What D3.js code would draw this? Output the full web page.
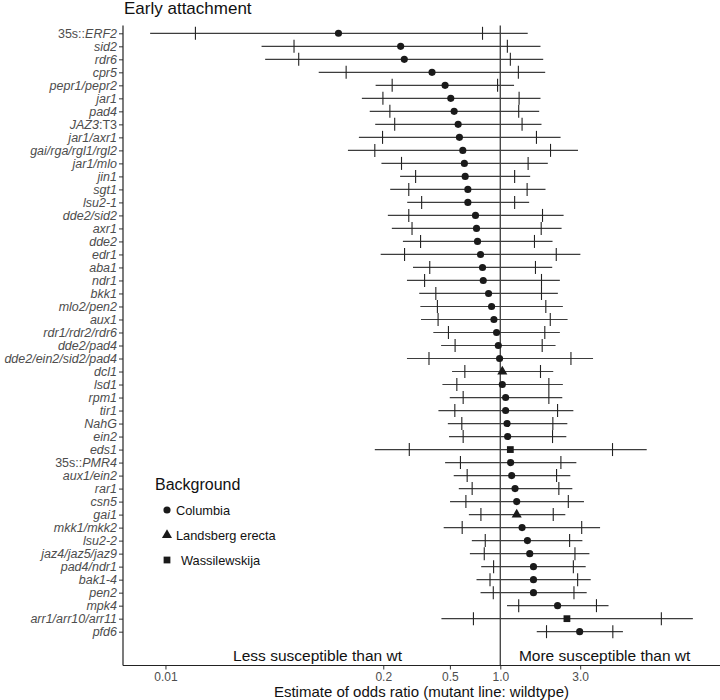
<!DOCTYPE html>
<html>
<head>
<meta charset="utf-8">
<script src="https://cdn.jsdelivr.net/npm/d3@7"></script>
<style>
  html, body { margin: 0; padding: 0; background: #fff; }
  svg { display: block; }
</style>
</head>
<body>
<svg id="chart" width="720" height="700"></svg>
<script>
// ---------------- DATA ----------------
const categories = [
  "35s::ERF2", "sid2", "rdr6", "cpr5", "pepr1/pepr2", "jar1", "pad4", "JAZ3:T3",
  "jar1/axr1", "gai/rga/rgl1/rgl2", "jar1/mlo", "jin1", "sgt1", "lsu2-1",
  "dde2/sid2", "axr1", "dde2", "edr1", "aba1", "ndr1", "bkk1", "mlo2/pen2",
  "aux1", "rdr1/rdr2/rdr6", "dde2/pad4", "dde2/ein2/sid2/pad4", "dcl1", "lsd1",
  "rpm1", "tir1", "NahG", "ein2", "eds1", "35s::PMR4", "aux1/ein2", "rar1",
  "csn5", "gai1", "mkk1/mkk2", "lsu2-2", "jaz4/jaz5/jaz9", "pad4/ndr1",
  "bak1-4", "pen2", "mpk4", "arr1/arr10/arr11", "pfd6"
];
// Blank rows under the last line, used for the annotations
const blankRows = ["blank1", "blank2"];

const estimate = [
  0.108, 0.254, 0.267, 0.391, 0.468, 0.506, 0.530, 0.560,
  0.570, 0.597, 0.610, 0.617, 0.640, 0.640,
  0.711, 0.721, 0.731, 0.762, 0.783, 0.791, 0.851, 0.887,
  0.916, 0.950, 0.973, 0.990, 1.028, 1.028,
  1.076, 1.076, 1.097, 1.106, 1.148, 1.153, 1.169, 1.225,
  1.253, 1.253, 1.349, 1.452, 1.499, 1.578,
  1.578, 1.578, 2.198, 2.500, 2.979
];
// outer interval (whisker ends)
const outerLow = [
  0.0081, 0.0375, 0.0394, 0.0823, 0.180, 0.149, 0.166, 0.179,
  0.143, 0.123, 0.195, 0.252, 0.220, 0.278,
  0.213, 0.225, 0.262, 0.193, 0.301, 0.277, 0.328, 0.333,
  0.336, 0.398, 0.443, 0.277, 0.515, 0.451,
  0.499, 0.427, 0.486, 0.494, 0.178, 0.468, 0.527, 0.565,
  0.501, 0.649, 0.459, 0.676, 0.658, 0.769,
  0.721, 0.762, 1.097, 0.445, 1.651
];
const outerHigh = [
  1.458, 1.738, 1.804, 1.854, 1.208, 1.738, 1.707, 1.762,
  2.291, 2.911, 1.922, 1.508, 1.862, 1.487,
  2.388, 2.323, 2.051, 3.008, 2.042, 2.268, 2.207, 2.364,
  2.523, 2.268, 2.138, 3.580, 2.071, 2.364,
  2.345, 2.731, 2.514, 2.479, 7.490, 2.846, 2.620, 2.693,
  3.160, 2.445, 3.944, 3.092, 3.406, 3.236,
  3.467, 3.281, 4.430, 14.13, 5.400
];
// inner interval (vertical tick marks)
const innerLow = [
  0.0151, 0.0586, 0.0625, 0.120, 0.226, 0.199, 0.219, 0.234,
  0.198, 0.178, 0.257, 0.312, 0.284, 0.339,
  0.284, 0.297, 0.334, 0.268, 0.379, 0.353, 0.412, 0.421,
  0.425, 0.490, 0.537, 0.375, 0.614, 0.550,
  0.600, 0.535, 0.589, 0.600, 0.286, 0.578, 0.634, 0.679,
  0.623, 0.766, 0.592, 0.813, 0.802, 0.912,
  0.868, 0.908, 1.288, 0.691, 1.888
];
const innerHigh = [
  0.783, 1.102, 1.148, 1.282, 0.963, 1.295, 1.288, 1.349,
  1.644, 1.995, 1.466, 1.218, 1.446, 1.218,
  1.787, 1.755, 1.600, 2.159, 1.622, 1.762, 1.762, 1.870,
  1.988, 1.844, 1.779, 2.642, 1.738, 1.950,
  1.950, 2.198, 2.060, 2.051, 4.680, 2.301, 2.168, 2.237,
  2.548, 2.071, 3.063, 2.594, 2.792, 2.731,
  2.897, 2.754, 3.753, 9.160, 4.700
];
const background = categories.map(c =>
  (c === "dcl1" || c === "gai1") ? "Landsberg erecta" :
  (c === "eds1" || c === "arr1/arr10/arr11") ? "Wassilewskija" : "Columbia");

const backgroundLevels = ["Columbia", "Landsberg erecta", "Wassilewskija"];
const backgroundSymbols = [d3.symbolCircle, d3.symbolTriangle, d3.symbolSquare];
const backgroundSymbolSizes = [40, 44, 46];

const xTicks = [0.01, 0.2, 0.5, 1, 3];
const xTickLabels = ["0.01", "0.2", "0.5", "1.0", "3.0"];
const referenceValue = 1;

const annotations = ["Less susceptible than wt", "More susceptible than wt"];
const annotationX = [0.081, 4.2];

const titleText = "Early attachment";
const xTitle = "Estimate of odds ratio (mutant line: wildtype)";
const legendTitle = "Background";

// ---------------- LAYOUT ----------------
const W = 720, H = 700;
const margin = { left: 123, right: 0, top: 25.5, bottom: 34.5 };
const font = "'Liberation Sans', Arial, sans-serif";
const svg = d3.select("#chart");

// x: log scale with ggplot-like 5% expansion
const lo = d3.min(outerLow), hi = d3.max(outerHigh);
const lmin = Math.log10(lo), lmax = Math.log10(hi);
const ex = (lmax - lmin) * 0.05;
const x = d3.scaleLog()
  .domain([Math.pow(10, lmin - ex), Math.pow(10, lmax + ex)])
  .range([margin.left, W - margin.right]);

const allRows = categories.concat(blankRows);
const y = d3.scalePoint()
  .domain(allRows)
  .range([margin.top, H - margin.bottom])
  .padding(0.6);

const lineCol = "#3d3d3d";
const rows = categories.map((c, i) => ({
  cat: c, est: estimate[i], lo: outerLow[i], hi: outerHigh[i],
  ilo: innerLow[i], ihi: innerHigh[i], bg: background[i]
}));

// reference line
svg.append("line")
  .attr("x1", x(referenceValue)).attr("x2", x(referenceValue))
  .attr("y1", margin.top).attr("y2", H - margin.bottom)
  .attr("stroke", "#4a4a4a").attr("stroke-width", 1.4);

// whiskers
const g = svg.append("g");
g.selectAll("line.whisk").data(rows).join("line")
  .attr("class", "whisk")
  .attr("x1", d => x(d.lo)).attr("x2", d => x(d.hi))
  .attr("y1", d => y(d.cat)).attr("y2", d => y(d.cat))
  .attr("stroke", lineCol).attr("stroke-width", 1.2);

// inner ticks
const tickH = 6.5;
["ilo", "ihi"].forEach(k => {
  g.selectAll("line." + k).data(rows).join("line")
    .attr("class", k)
    .attr("x1", d => x(d[k])).attr("x2", d => x(d[k]))
    .attr("y1", d => y(d.cat) - tickH).attr("y2", d => y(d.cat) + tickH)
    .attr("stroke", "#222").attr("stroke-width", 1.1);
});

// points
const shape = d3.scaleOrdinal().domain(backgroundLevels).range(backgroundSymbols);
const shapeSize = d3.scaleOrdinal().domain(backgroundLevels).range(backgroundSymbolSizes);
g.selectAll("path.pt").data(rows).join("path")
  .attr("class", "pt")
  .attr("transform", d => `translate(${x(d.est)},${y(d.cat)})`)
  .attr("d", d => d3.symbol().type(shape(d.bg)).size(shapeSize(d.bg))())
  .attr("fill", "#1a1a1a");

// y axis
const yAxis = svg.append("g")
  .attr("transform", `translate(${margin.left},0)`)
  .call(d3.axisLeft(y).tickValues(categories).tickSize(4).tickSizeOuter(0).tickPadding(2));
yAxis.select(".domain").remove();
yAxis.selectAll(".tick line").attr("stroke", "#333").attr("stroke-width", 1);

function labelParts(name) {
  if (name.startsWith("35s::")) return [["35s::", false], [name.slice(5), true]];
  if (name === "JAZ3:T3") return [["JAZ3", true], [":T3", false]];
  return [[name, true]];
}
yAxis.selectAll(".tick text").each(function(d) {
  const t = d3.select(this);
  t.text(null)
    .attr("font-family", font).attr("font-size", 12.5).attr("fill", "#4d4d4d");
  labelParts(d).forEach(p => {
    t.append("tspan").text(p[0]).attr("font-style", p[1] ? "italic" : "normal");
  });
});

// x axis
const xAxis = svg.append("g")
  .attr("transform", `translate(0,${H - margin.bottom})`)
  .call(d3.axisBottom(x).tickValues(xTicks).tickFormat((d, i) => xTickLabels[i])
    .tickSize(4).tickSizeOuter(0).tickPadding(3));
xAxis.select(".domain").remove();
xAxis.selectAll(".tick line").attr("stroke", "#333");
xAxis.selectAll(".tick text").attr("font-family", font).attr("font-size", 12).attr("fill", "#4d4d4d");

// axis lines
svg.append("line")
  .attr("x1", margin.left).attr("x2", margin.left)
  .attr("y1", margin.top).attr("y2", H - margin.bottom)
  .attr("stroke", "#222").attr("stroke-width", 1.2);
svg.append("line")
  .attr("x1", margin.left).attr("x2", W - margin.right)
  .attr("y1", H - margin.bottom).attr("y2", H - margin.bottom)
  .attr("stroke", "#222").attr("stroke-width", 1.2);

// annotations
svg.selectAll("text.annot").data(annotations).join("text")
  .attr("class", "annot")
  .attr("x", (d, i) => x(annotationX[i]))
  .attr("y", y(blankRows[1]))
  .attr("dy", "0.2em")
  .attr("text-anchor", "middle")
  .attr("font-family", font).attr("font-size", 15.5).attr("fill", "#111")
  .text(d => d);

// title
svg.append("text")
  .attr("x", 124).attr("y", 13.5)
  .attr("font-family", font).attr("font-size", 17).attr("fill", "#111")
  .text(titleText);

// x title
svg.append("text")
  .attr("x", (margin.left + W - margin.right) / 2).attr("y", 697)
  .attr("text-anchor", "middle")
  .attr("font-family", font).attr("font-size", 15).attr("fill", "#111")
  .text(xTitle);

// legend
const leg = svg.append("g");
leg.append("text")
  .attr("x", 155).attr("y", 490)
  .attr("font-family", font).attr("font-size", 16).attr("fill", "#111")
  .text(legendTitle);
backgroundLevels.forEach((lv, i) => {
  const cy = 510 + i * 25;
  leg.append("path")
    .attr("transform", `translate(167,${cy})`)
    .attr("d", d3.symbol().type(shape(lv)).size(shapeSize(lv))())
    .attr("fill", "#1a1a1a");
  leg.append("text")
    .attr("x", i === 2 ? 181 : 176).attr("y", cy + 4.5)
    .attr("font-family", font).attr("font-size", 12.8).attr("fill", "#111")
    .text(lv);
});
</script>
</body>
</html>
